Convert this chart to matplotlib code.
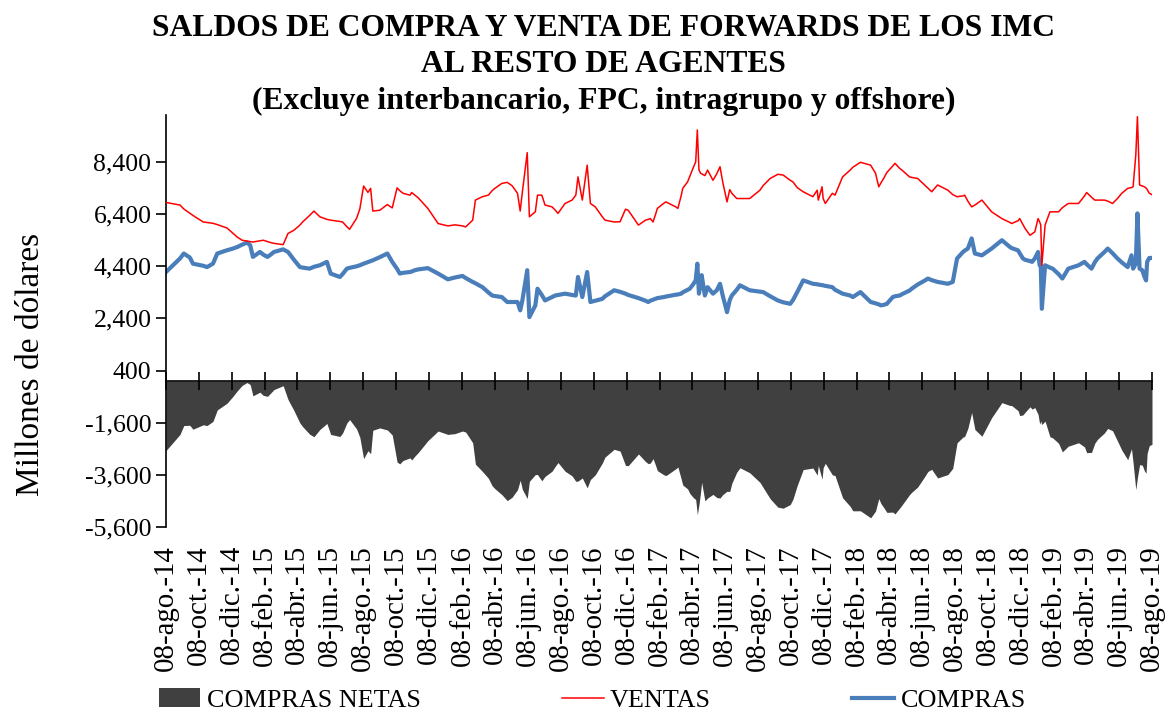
import numpy as np
import pandas as pd
import matplotlib.pyplot as plt
from matplotlib.patches import Patch
from matplotlib.lines import Line2D
from matplotlib.transforms import blended_transform_factory

plt.rcParams['font.family'] = ['Liberation Serif', 'DejaVu Serif']

# ------------------------------------------
# Saldos diarios (millones de US$)
# ------------------------------------------
FECHAS = [
    '2014-08-08', '2014-08-21', '2014-09-03', '2014-09-10', '2014-09-21', '2014-09-27',
    '2014-10-16', '2014-10-23', '2014-11-03', '2014-11-11', '2014-11-29', '2014-12-10',
    '2014-12-18', '2014-12-27', '2015-01-05', '2015-01-11', '2015-01-16', '2015-01-29',
    '2015-02-04', '2015-02-12', '2015-02-18', '2015-02-24', '2015-03-13', '2015-03-22',
    '2015-04-02', '2015-04-13', '2015-04-18', '2015-05-01', '2015-05-09', '2015-05-20',
    '2015-06-02', '2015-06-09', '2015-06-26', '2015-07-01', '2015-07-09', '2015-07-14',
    '2015-07-27', '2015-08-02', '2015-08-09', '2015-08-17', '2015-08-22', '2015-08-26',
    '2015-09-08', '2015-09-22', '2015-10-01', '2015-10-10', '2015-10-15', '2015-10-21',
    '2015-11-03', '2015-11-06', '2015-11-12', '2015-11-18', '2015-12-06', '2015-12-25',
    '2016-01-12', '2016-01-25', '2016-02-08', '2016-02-14', '2016-02-27', '2016-03-03',
    '2016-03-16', '2016-03-27', '2016-04-03', '2016-04-08', '2016-04-21', '2016-05-01',
    '2016-05-10', '2016-05-20', '2016-05-25', '2016-05-29', '2016-06-07', '2016-06-11',
    '2016-06-22', '2016-06-26', '2016-07-04', '2016-07-10', '2016-07-23', '2016-07-29',
    '2016-08-03', '2016-08-16', '2016-08-29', '2016-09-05', '2016-09-09', '2016-09-17',
    '2016-09-26', '2016-10-02', '2016-10-11', '2016-10-24', '2016-10-29', '2016-11-15',
    '2016-11-26', '2016-12-06', '2016-12-11', '2016-12-30', '2017-01-12', '2017-01-17',
    '2017-01-21', '2017-01-26', '2017-01-30', '2017-02-03', '2017-02-15', '2017-02-19',
    '2017-03-09', '2017-03-13', '2017-03-19', '2017-03-22', '2017-03-31', '2017-04-04',
    '2017-04-10', '2017-04-15', '2017-04-18', '2017-04-21', '2017-04-24', '2017-04-26',
    '2017-05-02', '2017-05-07', '2017-05-17', '2017-05-24', '2017-05-30', '2017-06-04',
    '2017-06-12', '2017-06-17', '2017-06-21', '2017-06-30', '2017-07-06', '2017-07-24',
    '2017-08-12', '2017-08-18', '2017-08-31', '2017-09-14', '2017-09-24', '2017-10-07',
    '2017-10-12', '2017-10-20', '2017-10-31', '2017-11-18', '2017-11-26', '2017-11-28',
    '2017-12-05', '2017-12-07', '2017-12-11', '2017-12-24', '2017-12-29', '2018-01-12',
    '2018-01-26', '2018-01-31', '2018-02-14', '2018-03-05', '2018-03-14', '2018-03-20',
    '2018-03-24', '2018-03-29', '2018-04-04', '2018-04-15', '2018-04-19', '2018-04-28',
    '2018-05-02', '2018-05-16', '2018-05-20', '2018-05-31', '2018-06-13', '2018-06-19',
    '2018-06-26', '2018-07-07', '2018-07-26', '2018-08-04', '2018-08-12', '2018-08-23',
    '2018-08-26', '2018-09-01', '2018-09-08', '2018-09-14', '2018-09-27', '2018-10-15',
    '2018-11-03', '2018-11-18', '2018-11-21', '2018-12-03', '2018-12-06', '2018-12-12',
    '2018-12-16', '2018-12-25', '2018-12-29', '2019-01-03', '2019-01-09', '2019-01-12',
    '2019-01-14', '2019-01-16', '2019-01-22', '2019-01-31', '2019-02-05', '2019-02-16',
    '2019-02-23', '2019-03-06', '2019-03-25', '2019-04-05', '2019-04-09', '2019-04-18',
    '2019-04-24', '2019-04-29', '2019-05-12', '2019-05-18', '2019-05-27', '2019-06-05',
    '2019-06-13', '2019-06-24', '2019-07-01', '2019-07-04', '2019-07-09', '2019-07-12',
    '2019-07-16', '2019-07-21', '2019-07-25', '2019-07-28', '2019-07-30', '2019-08-03',
    '2019-08-08',
]

VENTAS = [
    6850, 6800, 6750, 6600, 6440, 6350, 6100, 6080, 6050, 6000, 5870, 5670,
    5520, 5400, 5370, 5350, 5330, 5380, 5400, 5350, 5310, 5280, 5230, 5660,
    5785, 5980, 6100, 6350, 6520, 6300, 6200, 6170, 6120, 6100, 5920, 5820,
    6240, 6600, 7480, 7235, 7390, 6520, 6550, 6770, 6640, 7410, 7300, 7200,
    7130, 7230, 7130, 7030, 6620, 6040, 5950, 5990, 5950, 5910, 6170, 6940,
    7070, 7130, 7300, 7390, 7580, 7620, 7490, 7200, 6520, 7250, 8760, 6300,
    6490, 7130, 7130, 6750, 6680, 6550, 6430, 6810, 6940, 7130, 7830, 6940,
    8280, 6810, 6680, 6300, 6170, 6100, 6110, 6590, 6550, 5980, 6170, 6200,
    6230, 6100, 6350, 6620, 6820, 6870, 6680, 6620, 7100, 7390, 7640, 7850,
    8160, 8410, 9630, 8100, 7970, 7950, 7880, 8090, 7700, 7950, 8220, 7640,
    6870, 7340, 7200, 7000, 7000, 7000, 7320, 7500, 7770, 7930, 7900, 7700,
    7640, 7420, 7260, 7070, 7320, 6940, 7450, 7000, 6810, 7200, 7130, 7830,
    8090, 8200, 8390, 8280, 7970, 7450, 7600, 7770, 8000, 8250, 8350, 8150,
    8090, 7830, 7810, 7770, 7520, 7400, 7260, 7520, 7320, 7150, 7070, 7100,
    7130, 6900, 6680, 6750, 6940, 6490, 6230, 6080, 6040, 6150, 6230, 6000,
    5850, 5590, 5650, 5720, 6230, 6100, 5980, 4440, 5980, 6490, 6490, 6490,
    6650, 6810, 6810, 7100, 7230, 7050, 6940, 6940, 6940, 6900, 6810, 7000,
    7200, 7390, 7420, 7450, 8670, 10140, 7520, 7480, 7450, 7400, 7350, 7200,
    7150,
]

COMPRAS = [
    4180, 4440, 4700, 4890, 4740, 4500, 4420, 4370, 4500, 4890, 5015, 5080,
    5140, 5230, 5310, 5210, 4760, 4950, 4850, 4760, 4850, 4950, 5050, 4950,
    4650, 4370, 4350, 4310, 4380, 4440, 4570, 4120, 3990, 4100, 4310, 4340,
    4400, 4440, 4500, 4560, 4600, 4630, 4750, 4890, 4570, 4300, 4120, 4150,
    4180, 4200, 4250, 4280, 4330, 4120, 3900, 3970, 4030, 3950, 3800, 3750,
    3600, 3400, 3280, 3260, 3220, 3030, 3030, 3030, 2710, 3090, 4250, 2450,
    2900, 3540, 3300, 3090, 3220, 3280, 3300, 3350, 3300, 3280, 3990, 3220,
    4180, 3030, 3080, 3150, 3250, 3480, 3420, 3350, 3300, 3180, 3080, 3030,
    3080, 3120, 3150, 3180, 3220, 3240, 3310, 3320, 3350, 3400, 3500, 3540,
    3700, 3860, 4500, 3350, 3700, 4060, 3280, 3600, 3350, 3480, 3730, 3280,
    2640, 3100, 3280, 3500, 3670, 3480, 3430, 3410, 3250, 3090, 3020, 2960,
    3100, 3410, 3860, 3730, 3710, 3700, 3680, 3670, 3650, 3600, 3500, 3350,
    3280, 3220, 3410, 3030, 2980, 2940, 2900, 2920, 2960, 3220, 3250, 3280,
    3330, 3470, 3540, 3700, 3850, 3930, 3870, 3800, 3730, 3800, 4700, 4950,
    5000, 5080, 5470, 4890, 4820, 5080, 5400, 5140, 5100, 5010, 4900, 4700,
    4650, 4600, 4570, 4700, 4950, 4440, 4440, 2770, 4440, 4350, 4310, 4100,
    3930, 4310, 4440, 4570, 4480, 4310, 4550, 4700, 4950, 5080, 4900, 4700,
    4550, 4370, 4820, 4310, 4500, 6430, 4310, 4250, 4000, 3860, 4570, 4720,
    4720,
]

MESES = ['ene', 'feb', 'mar', 'abr', 'may', 'jun',
         'jul', 'ago', 'sep', 'oct', 'nov', 'dic']
Y_TICKS = [-5600, -3600, -1600, 400, 2400, 4400, 6400, 8400]

TITULO = ['SALDOS DE COMPRA Y VENTA DE FORWARDS DE LOS IMC',
          'AL RESTO DE AGENTES',
          '(Excluye interbancario, FPC, intragrupo y offshore)']

COLOR_NETAS = '#404040'
COLOR_VENTAS = '#FF0000'
COLOR_COMPRAS = '#4A7EBB'

fechas = pd.to_datetime(FECHAS)
ventas = np.array(VENTAS, dtype=float)
compras = np.array(COMPRAS, dtype=float)
netas = compras - ventas

fig = plt.figure(figsize=(11.68, 7.15), dpi=100)
ax = fig.add_axes([0.1421, 0.263, 0.8442, 0.576])

ax.fill_between(fechas, netas, 0, color=COLOR_NETAS, lw=0, zorder=1)
ax.plot(fechas, ventas, color=COLOR_VENTAS, lw=1.1, zorder=3)
ax.plot(fechas, compras, color=COLOR_COMPRAS, lw=3.0, zorder=2)

inicio = pd.Timestamp('2014-08-08')
fin = pd.Timestamp('2019-08-08')
ax.set_xlim(inicio, fin)
ax.set_ylim(-5600, 10200)

# eje x sobre el cero, etiquetas al pie del grafico
ticks = pd.date_range('2014-08-01', periods=31, freq='2MS') + pd.Timedelta(days=7)
ax.set_xticks(ticks)
ax.spines['bottom'].set_position(('data', 0))
ax.spines['bottom'].set_zorder(4)
ax.tick_params(axis='x', direction='inout', length=13, width=1.2,
               labelbottom=False)
trans = blended_transform_factory(ax.transData, ax.transAxes)
for t in ticks:
    etiqueta = f"{t.day:02d}-{MESES[t.month - 1]}.-{t.year % 100:02d}"
    ax.text(t, -0.044, etiqueta, transform=trans, rotation=90,
            ha='center', va='top', fontsize=20.8)

ax.set_yticks(Y_TICKS)
ax.set_yticklabels([f"{v:,.0f}" for v in Y_TICKS], fontsize=18.5)
ax.tick_params(axis='y', direction='out', length=7, width=1.2)
ax.spines['left'].set_linewidth(1.2)
ax.spines['bottom'].set_linewidth(1.2)
ax.spines['top'].set_visible(False)
ax.spines['right'].set_visible(False)

fig.text(0.026, 0.49, 'Millones de dólares', rotation=90,
         ha='center', va='center', fontsize=24)

for i, linea in enumerate(TITULO):
    fig.text(0.517, 1 - (29 + 36 * i) / 715, linea, ha='center', va='center',
             fontsize=22.8, fontweight='bold')

handles = [Patch(facecolor=COLOR_NETAS),
           Line2D([], [], color=COLOR_VENTAS, lw=1.1),
           Line2D([], [], color=COLOR_COMPRAS, lw=3.0)]
fig.legend(handles, ['COMPRAS NETAS', 'VENTAS', 'COMPRAS'],
           loc='center', bbox_to_anchor=(0.507, 1 - 700 / 715), ncol=3,
           frameon=False, fontsize=18.8, handlelength=1.6,
           handletextpad=0.25, columnspacing=5.4, borderaxespad=0,
           borderpad=0)

fig.savefig('out.png', dpi=100)
